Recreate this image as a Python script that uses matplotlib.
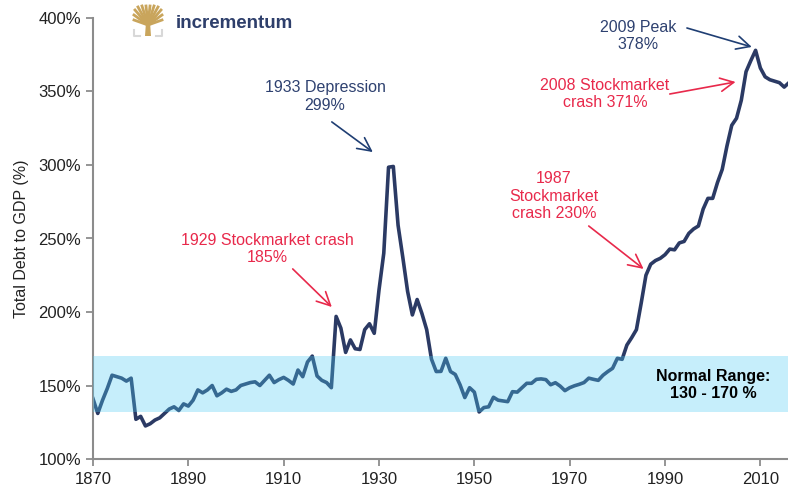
import numpy as np
import matplotlib
matplotlib.use("Agg")
from matplotlib import pyplot as plt

plt.rcParams['font.family'] = ['Liberation Sans', 'DejaVu Sans']

years = list(range(1870, 2017))
debt_to_gdp = [
    141, 131, 140, 148, 157, 156, 155, 153, 155, 127,          # 1870-1879
    129, 122.5, 124, 126.5, 128, 131, 134, 135.5, 133, 137.5,   # 1880-1889
    136, 140, 147, 145, 147, 150, 143, 145, 147.5, 146,         # 1890-1899
    147, 150, 151, 152, 152.5, 150, 153.5, 157, 152, 154,       # 1900-1909
    155.5, 153.5, 151, 160.5, 156, 166, 170, 156.5, 153.5, 152, # 1910-1919
    148.5, 197, 189, 172.5, 181, 175, 174.5, 188, 192, 185.5,   # 1920-1929
    215, 240, 298.5, 299, 259, 237, 214, 198, 208.5, 199,       # 1930-1939
    188, 168, 159.5, 159.6, 168.5, 159.5, 157.5, 150.5, 141.8, 148.5,  # 1940-1949
    145.5, 132, 135, 135.5, 142, 140, 139.5, 139, 145.8, 145.5, # 1950-1959
    148.5, 151.5, 151.5, 154.2, 154.5, 154, 150.5, 151.9, 149.6, 146.5,  # 1960-1969
    148.5, 149.8, 150.8, 152, 155, 154.2, 153.5, 157, 159.5, 161.7,      # 1970-1979
    168.5, 167.8, 177.5, 182.5, 188, 206, 225, 232.5, 235, 236.5,        # 1980-1989
    239, 242.8, 242.3, 247, 248, 253.5, 256.5, 258.5, 270, 277.3,        # 1990-1999
    277.3, 288, 297, 313, 327, 331.8, 344, 363.5, 371, 378,              # 2000-2009
    366, 360, 358, 357, 356, 353, 356,                                   # 2010-2016
]
normal_low, normal_high = 132, 170
y_ticks = [100, 150, 200, 250, 300, 350, 400]
x_ticks = [1870, 1890, 1910, 1930, 1950, 1970, 1990, 2010]

navy = '#2B3A64'
label_navy = '#2E4170'
arrow_navy = '#1F3E73'
red = '#E8294B'
grey = '#8C8C8C'

fig = plt.figure(figsize=(7.88, 4.90), dpi=100)
ax = fig.add_axes([93 / 788, 31 / 490, 695 / 788, 441 / 490])

ax.plot(years, debt_to_gdp, color=navy, lw=2.6, solid_joinstyle='round', zorder=2)
ax.axhspan(normal_low, normal_high, color='#50CDF5', alpha=0.32, lw=0, zorder=3)

ax.set_xlim(1870, 2015.8)
ax.set_ylim(100, 400)
ax.set_xticks(x_ticks)
ax.set_yticks(y_ticks)
ax.set_yticklabels([f'{v}%' for v in y_ticks])
ax.tick_params(axis='both', colors=grey, labelcolor='#222222', labelsize=12,
               length=5, width=1.3, direction='out')
ax.tick_params(axis='x', pad=4)
for side in ['top', 'right']:
    ax.spines[side].set_visible(False)
for side in ['left', 'bottom']:
    ax.spines[side].set_color(grey)
    ax.spines[side].set_linewidth(1.5)
ax.set_ylabel('Total Debt to GDP (%)', fontsize=11.5, color='#222222', labelpad=7)

# annotations: arrows (head, tail) then the labels
arrow_kw = dict(arrowstyle='->', lw=1.2, mutation_scale=24, shrinkA=0, shrinkB=0)
txt_kw = dict(ha='center', va='center', fontsize=11.5, linespacing=1.2)

ax.annotate('', xy=(1928.7, 308.8), xytext=(1920.1, 329.3),
            arrowprops=dict(color=arrow_navy, **arrow_kw))
ax.text(1918.7, 346.6, '1933 Depression\n299%', color=label_navy, **txt_kw)

ax.annotate('', xy=(1920.1, 203.4), xytext=(1911.9, 229.3),
            arrowprops=dict(color=red, **arrow_kw))
ax.text(1906.5, 242.9, '1929 Stockmarket crash\n185%', color=red, **txt_kw)

ax.annotate('', xy=(1985.5, 229.3), xytext=(1974.0, 258.5),
            arrowprops=dict(color=red, **arrow_kw))
ax.text(1966.7, 278.9, '1987\nStockmarket\ncrash 230%', color=red, **txt_kw)

ax.annotate('', xy=(2004.8, 356.5), xytext=(1991.0, 348.3),
            arrowprops=dict(color=red, **arrow_kw))
ax.text(1977.4, 348.3, '2008 Stockmarket\ncrash 371%', color=red, **txt_kw)

ax.annotate('', xy=(2008.2, 380.3), xytext=(1994.6, 393.2),
            arrowprops=dict(color=arrow_navy, **arrow_kw))
ax.text(1984.3, 387.8, '2009 Peak\n378%', color=label_navy, **txt_kw)

ax.text(2000.2, 150.3, 'Normal Range:\n130 - 170 %', ha='center', va='center',
        fontsize=11.5, fontweight='bold', color='black', linespacing=1.2, zorder=4)

# logo
logo = fig.add_axes([130 / 788, 1 - 38 / 490, 36 / 788, 34 / 490])
logo.set_xlim(0, 36)
logo.set_ylim(0, 34)
logo.axis('off')
gold = '#C9A55C'
logo.fill([15, 21, 20, 16], [2, 2, 16, 16], color=gold, lw=0)
for dx, dy in [(-14, 10), (-13, 15), (-10, 18), (-6, 19), (-2, 19), (2, 19),
               (6, 19), (10, 18), (13, 15), (14, 10), (-14, 5), (14, 5)]:
    logo.plot([18, 18 + dx], [13, 13 + dy], color=gold, lw=2.0)
logo.plot([4, 4, 10], [8, 2, 2], color='#D8D8D8', lw=1.5)
logo.plot([26, 32, 32], [2, 2, 8], color='#D8D8D8', lw=1.5)
fig.text(176 / 788, 1 - 23 / 490, 'incrementum', ha='left', va='center',
         fontsize=13.5, fontweight='bold', color='#2E3F6B')

fig.savefig('out.png', dpi=100)
